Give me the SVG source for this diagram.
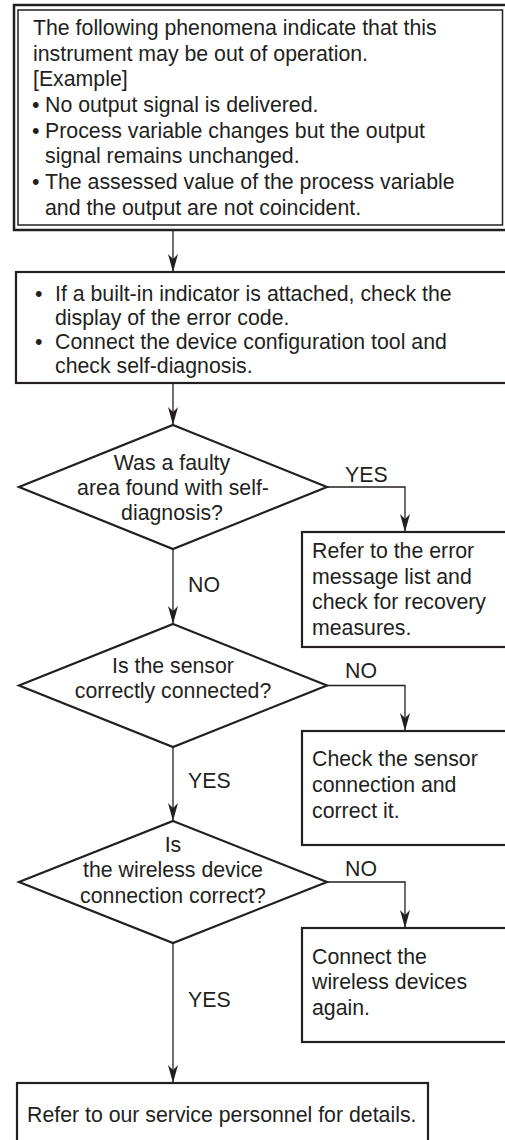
<svg xmlns="http://www.w3.org/2000/svg" width="505" height="1140" viewBox="0 0 505 1140">
<defs>
<style>
.t{font-family:"Liberation Sans",Arial,sans-serif;font-size:21.3px;fill:#231f20}
.c{text-anchor:middle}
.box{fill:#fff;stroke:#231f20;stroke-width:2.2}
.thin{fill:none;stroke:#231f20;stroke-width:1.5}
.con{fill:none;stroke:#231f20;stroke-width:1.3}
</style>
<marker id="ah" markerUnits="userSpaceOnUse" viewBox="0 0 18 10" refX="18" refY="5" markerWidth="18" markerHeight="10" orient="auto">
<path d="M0,0 L18,5 L0,10 L5,5 Z" fill="#231f20"/>
</marker>
</defs>
<rect width="505" height="1140" fill="#fff"/>

<g id="connectors">
<line class="con" x1="173" y1="231" x2="173" y2="272" marker-end="url(#ah)"/>
<line class="con" x1="173" y1="383" x2="173" y2="425" marker-end="url(#ah)"/>
<line class="con" x1="173" y1="549" x2="173" y2="624" marker-end="url(#ah)"/>
<line class="con" x1="173" y1="747" x2="173" y2="821" marker-end="url(#ah)"/>
<line class="con" x1="173" y1="943" x2="173" y2="1083" marker-end="url(#ah)"/>
<polyline class="con" points="327,487 405,487 405,532" marker-end="url(#ah)"/>
<polyline class="con" points="327,685.5 405,685.5 405,731" marker-end="url(#ah)"/>
<polyline class="con" points="327,882 405,882 405,928" marker-end="url(#ah)"/>
<text class="t" x="345" y="482">YES</text>
<text class="t" x="188" y="592">NO</text>
<text class="t" x="345" y="678">NO</text>
<text class="t" x="188" y="788">YES</text>
<text class="t" x="345" y="876">NO</text>
<text class="t" x="188" y="1007">YES</text>
</g>

<g id="start">
<rect x="14" y="5" width="500" height="225" fill="#fff" stroke="#231f20" stroke-width="2.5"/>
<rect x="18" y="10" width="484.5" height="215" class="thin"/>
<text class="t" x="33" y="35">The following phenomena indicate that this</text>
<text class="t" x="33" y="60.5">instrument may be out of operation.</text>
<text class="t" x="33" y="86">[Example]</text>
<text class="t" x="32" y="112">•</text>
<text class="t" x="45" y="112">No output signal is delivered.</text>
<text class="t" x="32" y="137.5">•</text>
<text class="t" x="45" y="137.5">Process variable changes but the output</text>
<text class="t" x="45" y="163">signal remains unchanged.</text>
<text class="t" x="32" y="189">•</text>
<text class="t" x="45" y="189">The assessed value of the process variable</text>
<text class="t" x="45" y="214.5">and the output are not coincident.</text>
</g>

<g id="check">
<rect class="box" x="16" y="272" width="500" height="111"/>
<text class="t" x="35" y="301">•</text>
<text class="t" x="55" y="301">If a built-in indicator is attached, check the</text>
<text class="t" x="55" y="325">display of the error code.</text>
<text class="t" x="35" y="349">•</text>
<text class="t" x="55" y="349">Connect the device configuration tool and</text>
<text class="t" x="55" y="373">check self-diagnosis.</text>
</g>

<g id="q1">
<polygon class="box" points="173,425 327,487 173,549 19,487"/>
<text class="t c" x="172" y="470">Was a faulty</text>
<text class="t c" x="173" y="495">area found with self-</text>
<text class="t c" x="172" y="520">diagnosis?</text>
</g>

<g id="r1">
<rect class="box" x="302" y="532" width="220" height="115"/>
<text class="t" x="312" y="558">Refer to the error</text>
<text class="t" x="312" y="584">message list and</text>
<text class="t" x="312" y="609">check for recovery</text>
<text class="t" x="312" y="635">measures.</text>
</g>

<g id="q2">
<polygon class="box" points="173,624 327,685.5 173,747 19,685.5"/>
<text class="t c" x="173" y="673">Is the sensor</text>
<text class="t c" x="173" y="698">correctly connected?</text>
</g>

<g id="r2">
<rect class="box" x="302" y="731" width="220" height="114"/>
<text class="t" x="312" y="766">Check the sensor</text>
<text class="t" x="312" y="792">connection and</text>
<text class="t" x="312" y="818">correct it.</text>
</g>

<g id="q3">
<polygon class="box" points="173,821 327,882 173,943 19,882"/>
<text class="t c" x="173" y="852">Is</text>
<text class="t c" x="173" y="877">the wireless device</text>
<text class="t c" x="173" y="903">connection correct?</text>
</g>

<g id="r3">
<rect class="box" x="302" y="928" width="220" height="114"/>
<text class="t" x="312" y="964">Connect the</text>
<text class="t" x="312" y="989">wireless devices</text>
<text class="t" x="312" y="1015">again.</text>
</g>

<g id="end">
<rect class="box" x="17" y="1083" width="411" height="80"/>
<text class="t" x="27" y="1122">Refer to our service personnel for details.</text>
</g>
</svg>
